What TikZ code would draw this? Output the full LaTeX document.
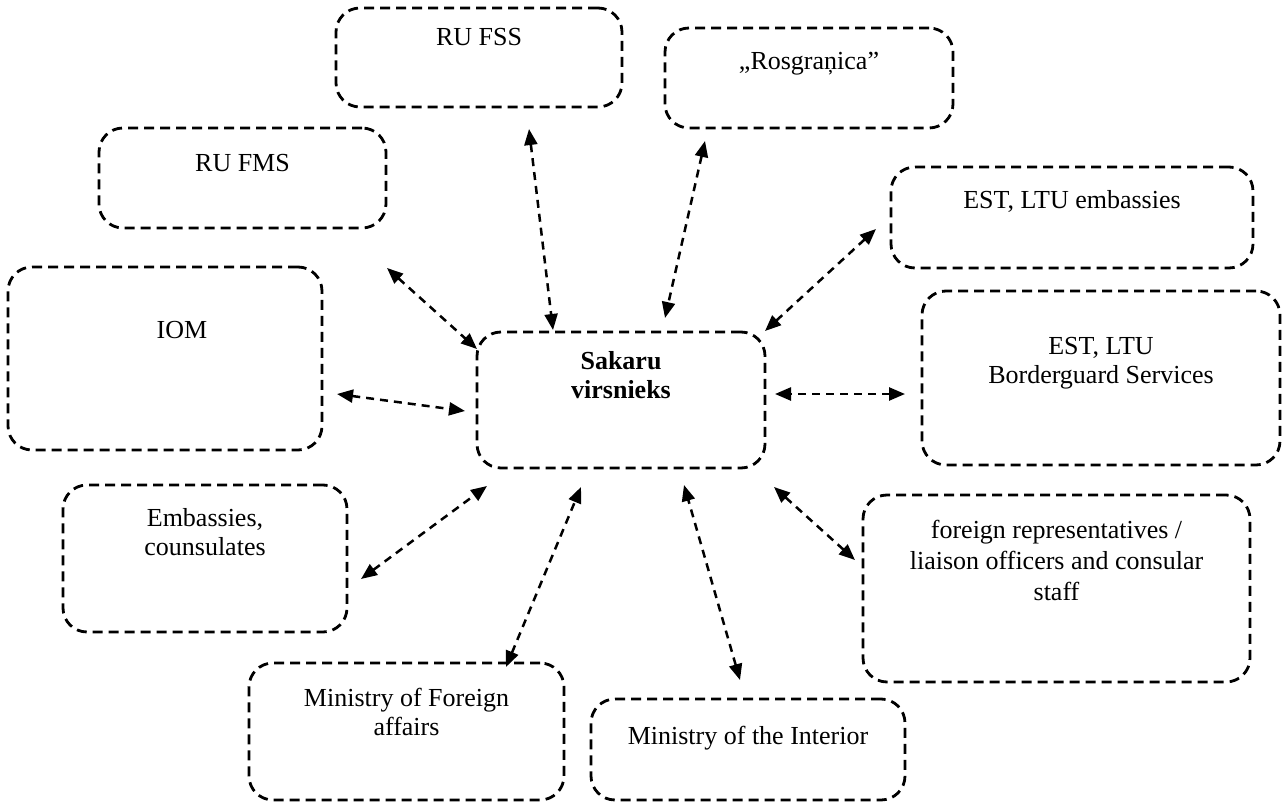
\documentclass[tikz,border=0pt]{standalone}
\usepackage{fontspec}
\setmainfont{Liberation Serif}
\usetikzlibrary{arrows.meta}
\tikzset{
  box/.style={draw=black, line width=2.8pt, dash pattern=on 10pt off 6pt, rounded corners=24pt, inner sep=0pt},
  lbl/.style={anchor=north, inner sep=0pt, align=center, font=\fontsize{26}{29}\selectfont},
  link/.style={line width=2.5pt, dash pattern=on 8pt off 6pt,
    {Triangle[length=16pt,width=13pt]}-{Triangle[length=16pt,width=13pt]}}
}
\begin{document}
\begin{tikzpicture}[x=1pt,y=-1pt]
\useasboundingbox (0,0) rectangle (1282,805);
% boxes
\node[box, minimum width=286pt, minimum height=99pt] (fss) at (479,57.5) {};
\node[box, minimum width=288pt, minimum height=100pt] (ros) at (809,78) {};
\node[box, minimum width=287pt, minimum height=100pt] (fms) at (242.5,178) {};
\node[box, minimum width=362pt, minimum height=101pt] (estemb) at (1072,217.5) {};
\node[box, minimum width=314pt, minimum height=183pt] (iom) at (165,358.5) {};
\node[box, minimum width=288pt, minimum height=136pt] (sak) at (621,400) {};
\node[box, minimum width=358pt, minimum height=174pt] (bord) at (1101,378) {};
\node[box, minimum width=284pt, minimum height=147pt] (emb) at (205,558.5) {};
\node[box, minimum width=387pt, minimum height=187pt] (forrep) at (1056.5,588.5) {};
\node[box, minimum width=315pt, minimum height=137pt] (mfa) at (406.5,731.5) {};
\node[box, minimum width=314pt, minimum height=101pt] (moi) at (748,749.5) {};
% labels
\node[lbl] (tfss) at ([yshift=-21pt]fss.north) {RU FSS};
\node[lbl] (tros) at ([yshift=-25pt]ros.north) {„Rosgraņica”};
\node[lbl] (tfms) at ([yshift=-27pt]fms.north) {RU FMS};
\node[lbl] (testemb) at ([yshift=-25pt]estemb.north) {EST, LTU embassies};
\node[lbl] (tiom) at ([xshift=17pt,yshift=-55pt]iom.north) {IOM};
\node[lbl, font=\fontsize{26}{29}\selectfont\bfseries] (tsak) at ([yshift=-21pt]sak.north) {Sakaru\\virsnieks};
\node[lbl] (tbord) at ([yshift=-47pt]bord.north) {EST, LTU\\Borderguard Services};
\node[lbl] (temb) at ([yshift=-25pt]emb.north) {Embassies,\\counsulates};
\node[lbl, font=\fontsize{26}{31}\selectfont] (tforrep) at ([yshift=-26pt]forrep.north) {foreign representatives /\\liaison officers and consular\\staff};
\node[lbl] (tmfa) at ([yshift=-26pt]mfa.north) {Ministry of Foreign\\affairs};
\node[lbl] (tmoi) at ([yshift=-28pt]moi.north) {Ministry of the Interior};
% arrow end points
\coordinate (fssA) at (529,129);   \coordinate (fssB) at (553,330);
\coordinate (rosA) at (705,141);   \coordinate (rosB) at (665,318);
\coordinate (fmsA) at (387,268);   \coordinate (fmsB) at (477,349);
\coordinate (estA) at (876,229);   \coordinate (estB) at (765,331);
\coordinate (iomA) at (337,394);   \coordinate (iomB) at (465,411);
\coordinate (borA) at (905,394);   \coordinate (borB) at (775,394);
\coordinate (embA) at (361,579);   \coordinate (embB) at (487,486);
\coordinate (forA) at (855,560);   \coordinate (forB) at (774,487);
\coordinate (mfaA) at (506,667);   \coordinate (mfaB) at (581,487);
\coordinate (moiA) at (740,680);   \coordinate (moiB) at (684,485);
% connectors
\draw[link] (fssA) -- (fssB);
\draw[link] (rosA) -- (rosB);
\draw[link] (fmsA) -- (fmsB);
\draw[link] (estA) -- (estB);
\draw[link] (iomA) -- (iomB);
\draw[link] (borA) -- (borB);
\draw[link] (embA) -- (embB);
\draw[link] (forA) -- (forB);
\draw[link] (mfaA) -- (mfaB);
\draw[link] (moiA) -- (moiB);
\end{tikzpicture}
\end{document}
